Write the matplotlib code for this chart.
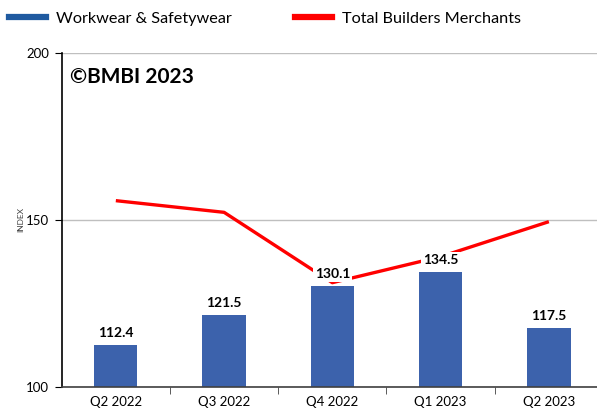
import matplotlib
matplotlib.use("Agg")
import matplotlib.pyplot as plt
from matplotlib.lines import Line2D

categories = ["Q2 2022", "Q3 2022", "Q4 2022", "Q1 2023", "Q2 2023"]
workwear = [112.4, 121.5, 130.1, 134.5, 117.5]
total_bm = [155.8, 152.3, 131.2, 139.0, 149.5]
yticks = [100, 150, 200]

plt.rcParams['font.family'] = ['Lato', 'DejaVu Sans']

W, H = 597, 413
fig = plt.figure(figsize=(W / 100, H / 100), dpi=100)
left, right, bottom, top = 61.7, 603, 386.7, 53.3
ax = fig.add_axes([left / W, 1 - bottom / H, (right - left) / W, (bottom - top) / H])

bar_color = "#3C62AC"
line_color = "#FF0000"
x = list(range(len(categories)))

ax.bar(x, [v - 100 for v in workwear], bottom=100, width=0.4, color=bar_color, zorder=2)
ax.plot(x, total_bm, color=line_color, lw=2.4, zorder=3, solid_capstyle='butt')

for xi, v in zip(x, workwear):
    ax.text(xi, v + 1.8, f"{v}", ha='center', va='bottom', fontsize=10, fontweight='bold',
            color='black', zorder=4,
            bbox=dict(boxstyle='square,pad=0.15', fc='white', ec='none'))

ax.set_xlim(-0.5, len(categories) - 0.5)
ax.set_ylim(100, 200)
ax.set_yticks(yticks)
ax.set_yticklabels([str(t) for t in yticks], fontsize=9.5)
ax.set_xticks(x)
ax.set_xticklabels(categories, fontsize=9.5)
ax.set_xticks([i + 0.5 for i in range(len(categories) - 1)], minor=True)
ax.tick_params(axis='x', which='major', length=0, pad=7)
ax.tick_params(axis='x', which='minor', length=5, direction='out', color='#404040')
ax.tick_params(axis='y', length=5, direction='out', pad=4, color='black')
ax.grid(axis='y', color='#BFBFBF', lw=1, zorder=0)
ax.set_axisbelow(True)
for s in ['top', 'right']:
    ax.spines[s].set_visible(False)
ax.spines['left'].set_color('black')
ax.spines['left'].set_linewidth(1.2)
ax.spines['bottom'].set_color('#404040')
ax.spines['bottom'].set_linewidth(1.2)

ax.set_ylabel("INDEX", fontsize=6, color='#404040', labelpad=1)

ax.text(0.015, 0.93, "©BMBI 2023", transform=ax.transAxes, fontsize=15, fontweight='bold',
        ha='left', va='center')

handles = [Line2D([0], [0], color="#1F5AA0", lw=4.5),
           Line2D([0], [0], color=line_color, lw=4.5)]
leg = fig.legend(handles, ["Workwear & Safetywear", "Total Builders Merchants"],
                 loc='upper left', bbox_to_anchor=(-0.01, 1.008), ncol=2, frameon=False,
                 fontsize=11.7, handlelength=2.3, handletextpad=0.6, columnspacing=3.9)

fig.savefig("out.png", dpi=100)
